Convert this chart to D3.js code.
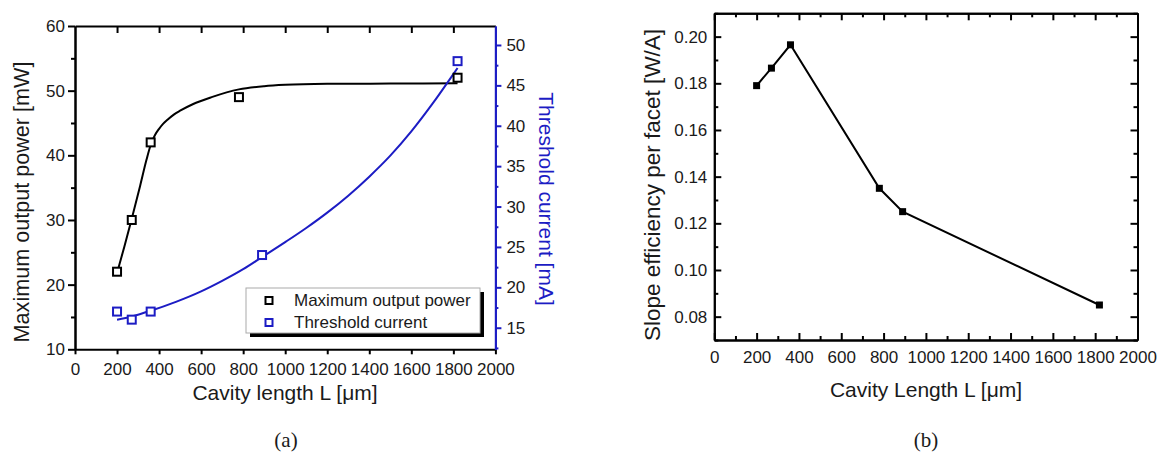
<!DOCTYPE html>
<html><head><meta charset="utf-8">
<script src="https://cdn.jsdelivr.net/npm/d3@7"></script>
<style>
body{margin:0;background:#fff}
svg{display:block}
text{font-family:"Liberation Sans",Arial,sans-serif;fill:#1a1a1a}
</style>
</head><body>
<svg id="c" width="1159" height="458"></svg>
<script>
// ---------- data ----------
const powerL = [200, 270, 360, 780, 1820];
const powerV = [22, 30, 42, 49, 52];
const threshL = [200, 270, 360, 890, 1820];
const threshV = [17, 16, 17, 24, 48];
const powerFitL = [200, 235, 270, 310, 340, 360, 380, 400, 420, 440, 470, 500, 560, 650, 780, 900, 1000, 1200, 1500, 1820];
const powerFitV = [21.8, 25.9, 30.2, 35.3, 39.3, 41.6, 43.1, 44.1, 44.9, 45.5, 46.3, 46.9, 47.9, 49.0, 50.2, 50.7, 50.9, 51.05, 51.1, 51.15];
const threshFitL = [200, 270, 360, 480, 600, 700, 800, 890, 1000, 1100, 1200, 1300, 1400, 1500, 1600, 1700, 1800, 1820];
const threshFitV = [16.0, 16.4, 17.1, 18.2, 19.5, 20.8, 22.25, 23.75, 25.6, 27.35, 29.25, 31.35, 33.7, 36.3, 39.3, 42.7, 46.4, 47.15];
const slopeL = [200, 270, 360, 780, 890, 1820];
const slopeV = [0.179, 0.1865, 0.1965, 0.135, 0.125, 0.085];

const xTicks = [0, 200, 400, 600, 800, 1000, 1200, 1400, 1600, 1800, 2000];
const xMinorB = [100, 300, 500, 700, 900, 1100, 1300, 1500, 1700, 1900];
const powerTicks = [10, 20, 30, 40, 50, 60];
const powerMinor = [15, 25, 35, 45, 55];
const threshTicks = [15, 20, 25, 30, 35, 40, 45, 50];
const threshMinor = [12.5, 17.5, 22.5, 27.5, 32.5, 37.5, 42.5, 47.5];
const slopeTicks = [0.08, 0.10, 0.12, 0.14, 0.16, 0.18, 0.20];
const slopeMinor = [0.07, 0.09, 0.11, 0.13, 0.15, 0.17, 0.19, 0.21];
const legendLabels = ["Maximum output power", "Threshold current"];

const BLUE = "#1c1cc4";
const svg = d3.select("#c");
svg.append("rect").attr("width", 1159).attr("height", 458).attr("fill", "#fff");

// ---------- panel (a) ----------
const xA = d3.scaleLinear().domain([0, 2000]).range([75, 495.4]);
const yA = d3.scaleLinear().domain([10, 60]).range([349.3, 26]);
const yA2 = d3.scaleLinear().domain([12.33, 52.35]).range([349.3, 26]);

const gA = svg.append("g");
function styleAxis(g, color) {
  g.selectAll("path,line").attr("stroke", color).attr("stroke-width", 2);
  g.selectAll("text").attr("font-size", 17).attr("fill", "#1a1a1a")
    .style("font-family", '"Liberation Sans",Arial,sans-serif');
}
// bottom
let ax = gA.append("g").attr("transform", `translate(0,${yA(10)})`)
  .call(d3.axisBottom(xA).tickValues(xTicks).tickSize(5).tickSizeOuter(0).tickPadding(8.5).tickFormat(d3.format("d")));
styleAxis(ax, "#000");
// top
ax = gA.append("g").attr("transform", `translate(0,${yA(60)})`)
  .call(d3.axisTop(xA).tickValues(xTicks.slice(1, -1)).tickSize(-7).tickSizeOuter(0).tickFormat(""));
styleAxis(ax, "#000");
// left
ax = gA.append("g").attr("transform", `translate(${xA(0)},0)`)
  .call(d3.axisLeft(yA).tickValues(powerTicks).tickSize(7).tickSizeOuter(0).tickPadding(3).tickFormat(d3.format("d")));
styleAxis(ax, "#000");
ax = gA.append("g").attr("transform", `translate(${xA(0)},0)`)
  .call(d3.axisLeft(yA).tickValues(powerMinor).tickSize(4).tickSizeOuter(0).tickFormat(""));
styleAxis(ax, "#000");
// right (blue)
ax = gA.append("g").attr("transform", `translate(${xA(2000)},0)`)
  .call(d3.axisRight(yA2).tickValues(threshTicks).tickSize(6).tickSizeOuter(0).tickPadding(5).tickFormat(d3.format("d")));
styleAxis(ax, BLUE);
ax = gA.append("g").attr("transform", `translate(${xA(2000)},0)`)
  .call(d3.axisRight(yA2).tickValues(threshMinor).tickSize(3).tickSizeOuter(0).tickFormat(""));
styleAxis(ax, BLUE);

// fit curves
const lineP = d3.line().x(d => xA(d[0])).y(d => yA(d[1])).curve(d3.curveMonotoneX);
const lineT = d3.line().x(d => xA(d[0])).y(d => yA2(d[1])).curve(d3.curveMonotoneX);
gA.append("path").datum(d3.zip(powerFitL, powerFitV)).attr("d", lineP)
  .attr("fill", "none").attr("stroke", "#000").attr("stroke-width", 2);
gA.append("path").datum(d3.zip(threshFitL, threshFitV)).attr("d", lineT)
  .attr("fill", "none").attr("stroke", BLUE).attr("stroke-width", 2);

// markers
const S = 8;
gA.selectAll(".mp").data(d3.zip(powerL, powerV)).join("rect")
  .attr("x", d => xA(d[0]) - S / 2).attr("y", d => yA(d[1]) - S / 2)
  .attr("width", S).attr("height", S).attr("fill", "#fff").attr("stroke", "#000").attr("stroke-width", 2);
gA.selectAll(".mt").data(d3.zip(threshL, threshV)).join("rect")
  .attr("x", d => xA(d[0]) - S / 2).attr("y", d => yA2(d[1]) - S / 2)
  .attr("width", S).attr("height", S).attr("fill", "#fff").attr("stroke", BLUE).attr("stroke-width", 2);

// legend
const lg = gA.append("g").attr("transform", "translate(246,288)");
lg.append("rect").attr("x", 4).attr("y", 4).attr("width", 234).attr("height", 45).attr("fill", "#000");
lg.append("rect").attr("x", 0).attr("y", 0).attr("width", 234).attr("height", 45)
  .attr("fill", "#fff").attr("stroke", "#aaa").attr("stroke-width", 1);
const legColors = ["#000", BLUE];
legendLabels.forEach((t, i) => {
  const cy = 12.5 + i * 22;
  lg.append("rect").attr("x", 23 - 3.5).attr("y", cy - 3.5).attr("width", 7).attr("height", 7)
    .attr("fill", "#fff").attr("stroke", legColors[i]).attr("stroke-width", 2);
  lg.append("text").attr("x", 48).attr("y", cy).attr("dy", "0.35em")
    .attr("font-size", 17).text(t);
});

// titles (a)
gA.append("text").attr("x", 285).attr("y", 400).attr("text-anchor", "middle")
  .attr("font-size", 21).text("Cavity length L [μm]");
gA.append("text").attr("transform", "translate(21,202) rotate(-90)").attr("dy", "0.35em")
  .attr("text-anchor", "middle").attr("font-size", 21.6).text("Maximum output power [mW]");
gA.append("text").attr("transform", "translate(546,199) rotate(90)").attr("dy", "0.35em")
  .attr("text-anchor", "middle").attr("font-size", 21).style("fill", BLUE).text("Threshold current [mA]");

// ---------- panel (b) ----------
const xB = d3.scaleLinear().domain([0, 2000]).range([714.3, 1137.5]);
const yB = d3.scaleLinear().domain([0.07, 0.21]).range([340, 13.3]);
const gB = svg.append("g");
const f2 = d3.format(".2f");
ax = gB.append("g").attr("transform", `translate(0,${yB(0.07)})`)
  .call(d3.axisBottom(xB).tickValues(xTicks).tickSize(-7).tickSizeOuter(0).tickPadding(10.5).tickFormat(d3.format("d")));
styleAxis(ax, "#000");
ax = gB.append("g").attr("transform", `translate(0,${yB(0.07)})`)
  .call(d3.axisBottom(xB).tickValues(xMinorB).tickSize(-4).tickSizeOuter(0).tickFormat(""));
styleAxis(ax, "#000");
ax = gB.append("g").attr("transform", `translate(0,${yB(0.21)})`)
  .call(d3.axisTop(xB).tickValues(xTicks).tickSize(-7).tickSizeOuter(0).tickFormat(""));
styleAxis(ax, "#000");
ax = gB.append("g").attr("transform", `translate(0,${yB(0.21)})`)
  .call(d3.axisTop(xB).tickValues(xMinorB).tickSize(-4).tickSizeOuter(0).tickFormat(""));
styleAxis(ax, "#000");
ax = gB.append("g").attr("transform", `translate(${xB(0)},0)`)
  .call(d3.axisLeft(yB).tickValues(slopeTicks).tickSize(-7).tickSizeOuter(0).tickPadding(7).tickFormat(f2));
styleAxis(ax, "#000");
ax = gB.append("g").attr("transform", `translate(${xB(0)},0)`)
  .call(d3.axisLeft(yB).tickValues(slopeMinor).tickSize(-4).tickSizeOuter(0).tickFormat(""));
styleAxis(ax, "#000");
ax = gB.append("g").attr("transform", `translate(${xB(2000)},0)`)
  .call(d3.axisRight(yB).tickValues(slopeTicks).tickSize(-7).tickSizeOuter(0).tickFormat(""));
styleAxis(ax, "#000");
ax = gB.append("g").attr("transform", `translate(${xB(2000)},0)`)
  .call(d3.axisRight(yB).tickValues(slopeMinor).tickSize(-4).tickSizeOuter(0).tickFormat(""));
styleAxis(ax, "#000");

const lineS = d3.line().x(d => xB(d[0])).y(d => yB(d[1]));
gB.append("path").datum(d3.zip(slopeL, slopeV)).attr("d", lineS)
  .attr("fill", "none").attr("stroke", "#000").attr("stroke-width", 2);
const SB = 7;
gB.selectAll(".ms").data(d3.zip(slopeL, slopeV)).join("rect")
  .attr("x", d => xB(d[0]) - SB / 2).attr("y", d => yB(d[1]) - SB / 2)
  .attr("width", SB).attr("height", SB).attr("fill", "#000");

gB.append("text").attr("x", 926).attr("y", 397).attr("text-anchor", "middle")
  .attr("font-size", 21).text("Cavity Length L [μm]");
gB.append("text").attr("transform", "translate(652,185) rotate(-90)").attr("dy", "0.35em")
  .attr("text-anchor", "middle").attr("font-size", 22.5).text("Slope efficiency per facet [W/A]");

// sub-captions
svg.append("text").attr("x", 286).attr("y", 447).attr("text-anchor", "middle")
  .attr("font-size", 21).style("font-family", '"Liberation Serif","Times New Roman",serif').text("(a)");
svg.append("text").attr("x", 926).attr("y", 447).attr("text-anchor", "middle")
  .attr("font-size", 21).style("font-family", '"Liberation Serif","Times New Roman",serif').text("(b)");
</script>
</body></html>
